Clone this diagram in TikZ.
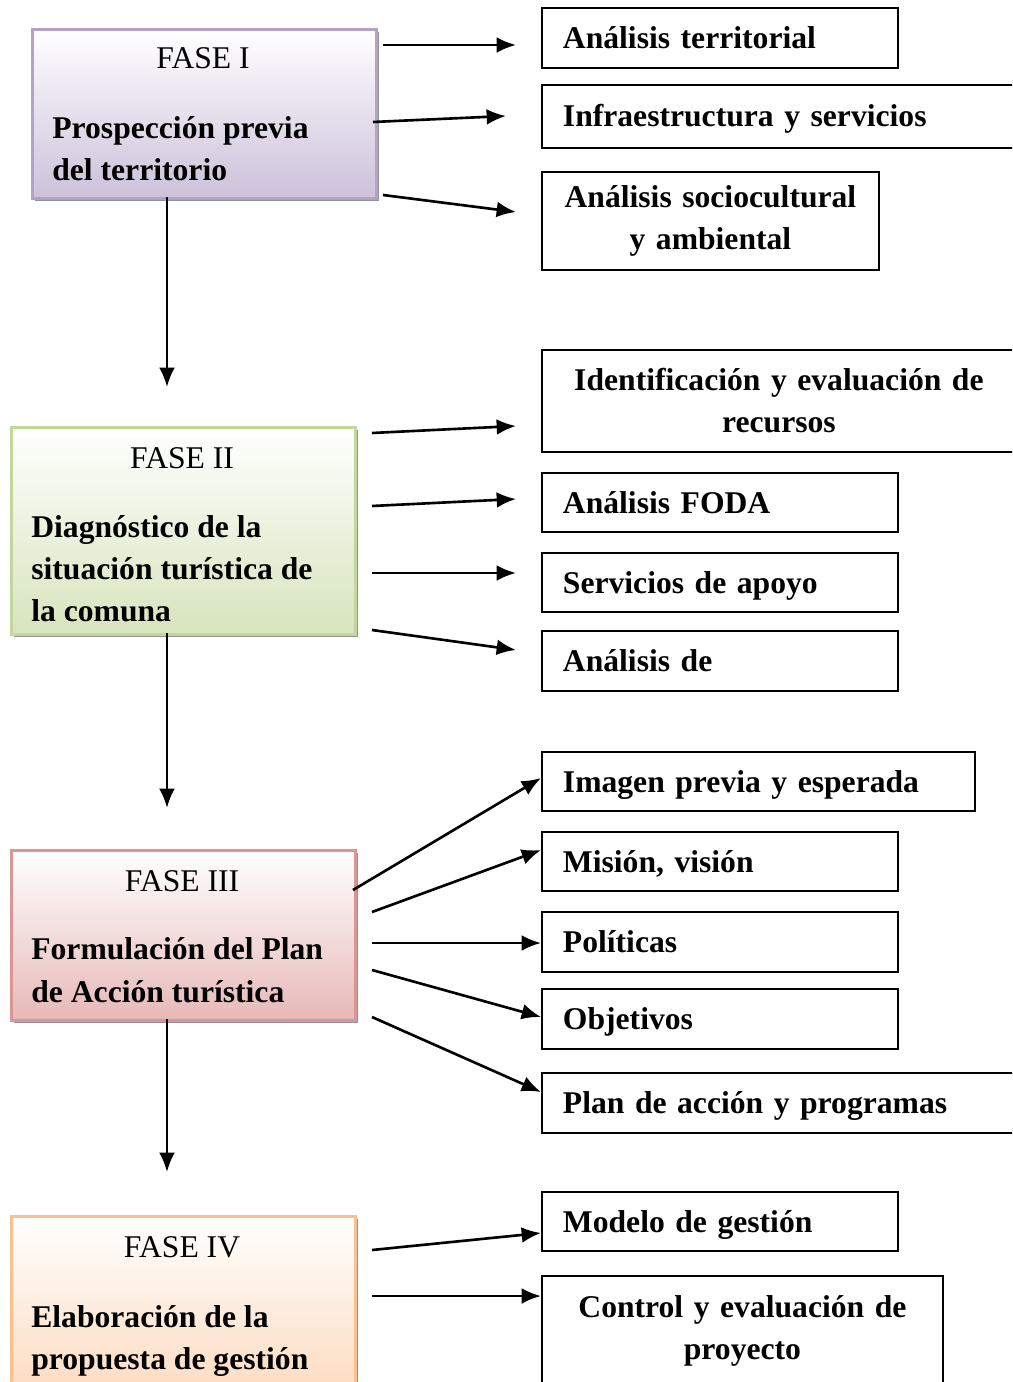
\documentclass[tikz,border=0pt]{standalone}
\usepackage{fontspec}
\setmainfont{Liberation Serif}
\usetikzlibrary{arrows.meta,shadows}
\definecolor{purpleD}{HTML}{B3A2C7}
\definecolor{purpleF}{HTML}{CCC1DA}
\definecolor{greenD}{HTML}{C3D69B}
\definecolor{greenF}{HTML}{D7E4BD}
\definecolor{redD}{HTML}{D99694}
\definecolor{redF}{HTML}{E6B9B8}
\definecolor{orangeD}{HTML}{FAC090}
\definecolor{orangeF}{HTML}{FCD5B5}
\tikzset{
  fase/.style={anchor=north west, inner sep=0pt, line width=1.5pt, minimum width=6.88cm,
    drop shadow={shadow xshift=0.06cm, shadow yshift=-0.06cm, fill=gray, opacity=0.85}},
  ftitle/.style={anchor=base, inner sep=0pt, font=\fontsize{18}{24}\selectfont},
  fbody/.style={anchor=base west, inner sep=0pt, font=\bfseries\fontsize{18}{24}\selectfont},
  rbox/.style={draw, line width=1.1pt, anchor=north west, inner xsep=0.42cm, inner ysep=0pt,
    text height=16pt, text depth=4pt,
    align=left, font=\bfseries\fontsize{18}{24}\selectfont},
  cbox/.style={draw, line width=1.1pt, anchor=north west, inner xsep=0pt, inner ysep=0pt,
    align=center, font=\bfseries\fontsize{18}{24}\selectfont},
  arr/.style={line width=1.5pt, -{Latex[length=11pt,width=9pt]}}
}
\begin{document}
\begin{tikzpicture}[x=0.02cm,y=-0.02cm]
\path[use as bounding box] (0,0) rectangle (1012,1382);
\clip (0,0) rectangle (1012,1382);
% phase boxes
\node[fase, draw=purpleD, top color=white, bottom color=purpleF, minimum height=3.38cm] (f1) at (31,28) {};
\node[fase, draw=greenD, top color=white, bottom color=greenF, minimum height=4.14cm] (f2) at (10,426) {};
\node[fase, draw=redD, top color=white, bottom color=redF, minimum height=3.4cm] (f3) at (10,849) {};
\node[fase, draw=orangeD, top color=white, bottom color=orangeF, minimum height=4.2cm] (f4) at (10,1215) {};
% phase texts
\node[ftitle] (t1) at (203,69) {FASE I};
\node[fbody] (t1a) at (52,139) {Prospección previa};
\node[fbody] (t1b) at (52,181) {del territorio};
\node[ftitle] (t2) at (182,468) {FASE II};
\node[fbody] (t2a) at (31,537) {Diagnóstico de la};
\node[fbody] (t2b) at (31,579) {situación turística de};
\node[fbody] (t2c) at (31,621) {la comuna};
\node[ftitle] (t3) at (182,891) {FASE III};
\node[fbody] (t3a) at (31,959) {Formulación del Plan};
\node[fbody] (t3b) at (31,1002) {de Acción turística};
\node[ftitle] (t4) at (182,1257) {FASE IV};
\node[fbody] (t4a) at (31,1327) {Elaboración de la};
\node[fbody] (t4b) at (31,1369) {propuesta de gestión};
% right boxes
\node[rbox, text width=6.28cm, minimum height=1.2cm] (r1) at (541,7) {Análisis territorial};
\node[rbox, text width=8.94cm, minimum height=1.26cm] (r2) at (541,84) {Infraestructura y servicios};
\node[cbox, text width=6.74cm, minimum height=1.96cm] (r3) at (541,171) {Análisis sociocultural\\ y ambiental};
\node[cbox, text width=9.48cm, minimum height=2.04cm] (r4) at (541,349) {Identificación y evaluación de\\ recursos};
\node[rbox, text width=6.28cm, minimum height=1.18cm] (r5) at (541,472) {Análisis FODA};
\node[rbox, text width=6.28cm, minimum height=1.18cm] (r6) at (541,552) {Servicios de apoyo};
\node[rbox, text width=6.28cm, minimum height=1.2cm] (r7) at (541,630) {Análisis de};
\node[rbox, text width=7.82cm, minimum height=1.18cm] (r8) at (541,751) {Imagen previa y esperada};
\node[rbox, text width=6.28cm, minimum height=1.18cm] (r9) at (541,831) {Misión, visión};
\node[rbox, text width=6.28cm, minimum height=1.2cm] (r10) at (541,911) {Políticas};
\node[rbox, text width=6.28cm, minimum height=1.2cm] (r11) at (541,988) {Objetivos};
\node[rbox, text width=8.94cm, minimum height=1.2cm] (r12) at (541,1072) {Plan de acción y programas};
\node[rbox, text width=6.28cm, minimum height=1.18cm] (r13) at (541,1191) {Modelo de gestión};
\node[cbox, text width=8.02cm, minimum height=2.2cm] (r14) at (541,1275) {Control y evaluación de\\ proyecto};
% connector end points
\coordinate (a1s) at (383,45);  \coordinate (a1e) at (516,45);
\coordinate (a2s) at (373,122); \coordinate (a2e) at (506,116);
\coordinate (a3s) at (383,195); \coordinate (a3e) at (516,212);
\coordinate (b1s) at (372,433); \coordinate (b1e) at (516,426);
\coordinate (b2s) at (372,506); \coordinate (b2e) at (516,499);
\coordinate (b3s) at (372,573); \coordinate (b3e) at (516,573);
\coordinate (b4s) at (372,630); \coordinate (b4e) at (516,650);
\coordinate (c1s) at (353,890); \coordinate (c1e) at (541,778);
\coordinate (c2s) at (372,912); \coordinate (c2e) at (541,850);
\coordinate (c3s) at (372,943); \coordinate (c3e) at (541,943);
\coordinate (c4s) at (372,970); \coordinate (c4e) at (541,1017);
\coordinate (c5s) at (372,1017); \coordinate (c5e) at (541,1092);
\coordinate (d1s) at (372,1250); \coordinate (d1e) at (541,1233);
\coordinate (d2s) at (372,1296); \coordinate (d2e) at (541,1296);
\coordinate (v1s) at (167,197); \coordinate (v1e) at (167,387);
\coordinate (v2s) at (167,633); \coordinate (v2e) at (167,808);
\coordinate (v3s) at (167,1019); \coordinate (v3e) at (167,1172);
% connectors
\foreach \p in {a1,a2,a3,b1,b2,b3,b4,c1,c2,c3,c4,c5,d1,d2,v1,v2,v3}
  \draw[arr] (\p s) -- (\p e);
\end{tikzpicture}
\end{document}
